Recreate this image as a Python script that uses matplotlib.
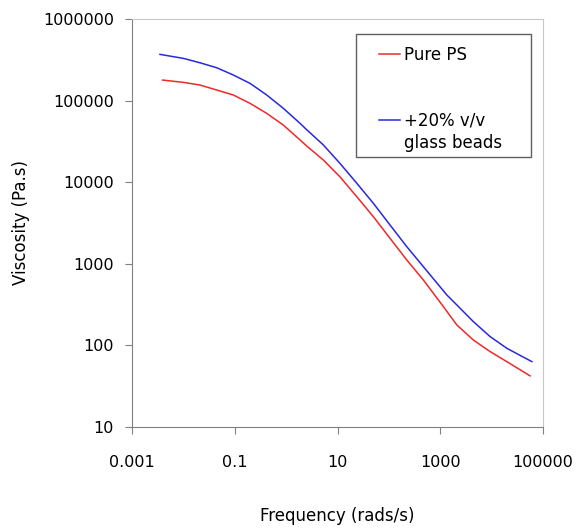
import matplotlib
matplotlib.use("Agg")
import matplotlib.pyplot as plt
from matplotlib.lines import Line2D
from matplotlib.patches import Rectangle

# ==========================================
# values
freq_ps = [0.00396, 0.00998, 0.0211, 0.0446, 0.0938, 0.198, 0.419, 0.881, 1.86, 2.51,
           5.30, 11.1, 23.7, 49.8, 105, 222, 468, 1146, 2089, 4395, 9290, 19630, 55700]
visc_ps = [178600, 167500, 155200, 134900, 117200, 92700, 69800, 50200, 33000, 27800,
           18700, 11670, 6640, 3776, 2051, 1114, 632, 298, 178, 116, 83.8, 63.1, 42.2]

freq_gb = [0.00351, 0.00998, 0.0211, 0.0446, 0.0938, 0.198, 0.419, 0.881, 1.86, 2.51,
           5.30, 11.1, 23.7, 49.8, 105, 222, 468, 1334, 2089, 4395, 9290, 19630, 60300]
visc_gb = [369000, 329600, 291100, 252900, 206100, 162900, 117200, 80500, 52700, 44000,
           28600, 17060, 9700, 5508, 2985, 1622, 920, 415, 313, 195, 128, 92, 63.1]

xticks = [0.001, 0.1, 10, 1000, 100000]
xtick_labels = ["0.001", "0.1", "10", "1000", "100000"]
yticks = [10, 100, 1000, 10000, 100000, 1000000]
ytick_labels = ["10", "100", "1000", "10000", "100000", "1000000"]

series_labels = ["Pure PS", "+20% v/v", "glass beads"]

# ==========================================
fig = plt.figure(figsize=(5.76, 5.29), dpi=100)
ax = fig.add_axes([0.229, 0.193, 0.714, 0.771])

red = "#f02828"
blue = "#2828e0"
ax.plot(freq_ps, visc_ps, color=red, lw=1.1)
ax.plot(freq_gb, visc_gb, color=blue, lw=1.1)

ax.set_xscale("log")
ax.set_yscale("log")
ax.set_xlim(0.001, 100000)
ax.set_ylim(10, 1000000)
ax.set_xticks(xticks, xtick_labels)
ax.set_yticks(yticks, ytick_labels)
ax.minorticks_off()

ax.tick_params(axis="x", direction="out", length=5, color="#808080", pad=15, labelsize=11.5)
ax.tick_params(axis="y", direction="out", length=5, color="#808080", pad=8, labelsize=11.5)

for s in ["left", "bottom"]:
    ax.spines[s].set_color("#808080")
for s in ["top", "right"]:
    ax.spines[s].set_color("#c8c8c8")

ax.set_xlabel("Frequency (rads/s)", fontsize=12, labelpad=27)
ax.set_ylabel("Viscosity (Pa.s)", fontsize=12, labelpad=9)

##legend: blank rows keep the gap between the two entries, frame drawn separately
blank = Line2D([], [], color="none")
handles = [Line2D([], [], color=red, lw=1.1), blank, blank,
           Line2D([], [], color=blue, lw=1.1), blank]
labels = [series_labels[0], "", "", series_labels[1], series_labels[2]]
leg = ax.legend(handles, labels, loc="upper left", bbox_to_anchor=(0.601, 0.935),
                borderaxespad=0, borderpad=0, fontsize=12, handlelength=1.26,
                handletextpad=0.25, labelspacing=0.24, frameon=False)
ax.add_patch(Rectangle((0.545, 0.662), 0.426, 0.301, transform=ax.transAxes,
                       facecolor="white", edgecolor="#606060", lw=1.0, zorder=4))
leg.set_zorder(5)

fig.savefig("out.png", dpi=100)
